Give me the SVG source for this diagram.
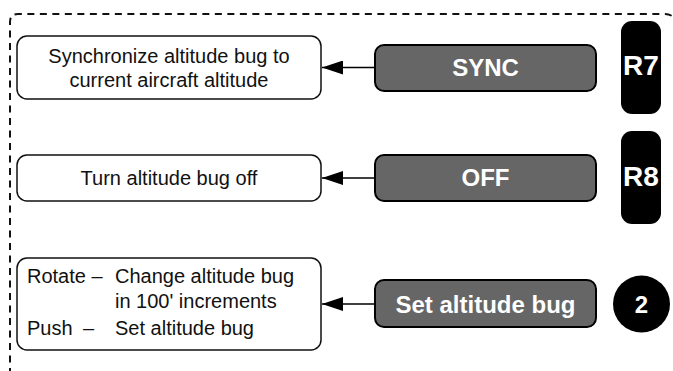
<svg xmlns="http://www.w3.org/2000/svg" width="673" height="371" viewBox="0 0 673 371">
<defs>
<style>
.desc{fill:#fff;stroke:#111;stroke-width:1.5}
.btn{fill:#666;stroke:#000;stroke-width:2}
.pill{fill:#000}
.t{font-family:"Liberation Sans",Arial,sans-serif;font-size:20px;fill:#111}
.bt{font-family:"Liberation Sans",Arial,sans-serif;font-size:24px;font-weight:bold;fill:#fff;text-anchor:middle}
.kt{font-family:"Liberation Sans",Arial,sans-serif;font-size:28px;font-weight:bold;fill:#fff;text-anchor:middle}
.conn{stroke:#000;stroke-width:1.4;fill:none}
.border{fill:none;stroke:#111;stroke-width:2;stroke-dasharray:7 5.5}
</style>
<marker id="ah" markerWidth="21" markerHeight="14" refX="21" refY="7" orient="auto" markerUnits="userSpaceOnUse">
<path d="M21,7 L0,0 L0,14 Z" fill="#000"/>
</marker>
</defs>
<path class="border" d="M10,375 L10,22 Q10,14 18,14 L665,14 Q673,14 677,22"/>
<g id="desc-sync">
<rect class="desc" x="17" y="36" width="304" height="63" rx="10"/>
<text class="t" x="169" y="63" text-anchor="middle">Synchronize altitude bug to</text>
<text class="t" x="169" y="87" text-anchor="middle">current aircraft altitude</text>
</g>
<g id="desc-off">
<rect class="desc" x="17" y="155" width="304" height="46" rx="10"/>
<text class="t" x="169" y="185" text-anchor="middle">Turn altitude bug off</text>
</g>
<g id="desc-set">
<rect class="desc" x="17" y="258" width="304" height="92" rx="10"/>
<text class="t" x="27" y="283">Rotate –</text>
<text class="t" x="115" y="283">Change altitude bug</text>
<text class="t" x="115" y="308">in 100' increments</text>
<text class="t" x="27" y="335">Push</text>
<text class="t" x="83" y="335">–</text>
<text class="t" x="115" y="335">Set altitude bug</text>
</g>
<g id="btn-sync">
<rect class="btn" x="375" y="45" width="221" height="46" rx="9"/>
<text class="bt" x="485.5" y="76">SYNC</text>
</g>
<g id="btn-off">
<rect class="btn" x="375" y="155" width="221" height="46" rx="9"/>
<text class="bt" x="485.5" y="186">OFF</text>
</g>
<g id="btn-set">
<rect class="btn" x="375" y="280" width="221" height="47" rx="9"/>
<text class="bt" x="485.5" y="313">Set altitude bug</text>
</g>
<g id="key-r7">
<rect class="pill" x="621" y="21" width="40" height="93" rx="11"/>
<text class="kt" x="641" y="75">R7</text>
</g>
<g id="key-r8">
<rect class="pill" x="621" y="131" width="40" height="93" rx="11"/>
<text class="kt" x="641" y="186">R8</text>
</g>
<g id="key-2">
<circle cx="641.5" cy="304" r="28.5" fill="#000"/>
<text class="bt" x="641.5" y="313">2</text>
</g>
<g id="connectors">
<line class="conn" x1="374" y1="67.5" x2="322" y2="67.5" marker-end="url(#ah)"/>
<line class="conn" x1="374" y1="178" x2="322" y2="178" marker-end="url(#ah)"/>
<line class="conn" x1="374" y1="304" x2="322" y2="304" marker-end="url(#ah)"/>
</g>
</svg>
